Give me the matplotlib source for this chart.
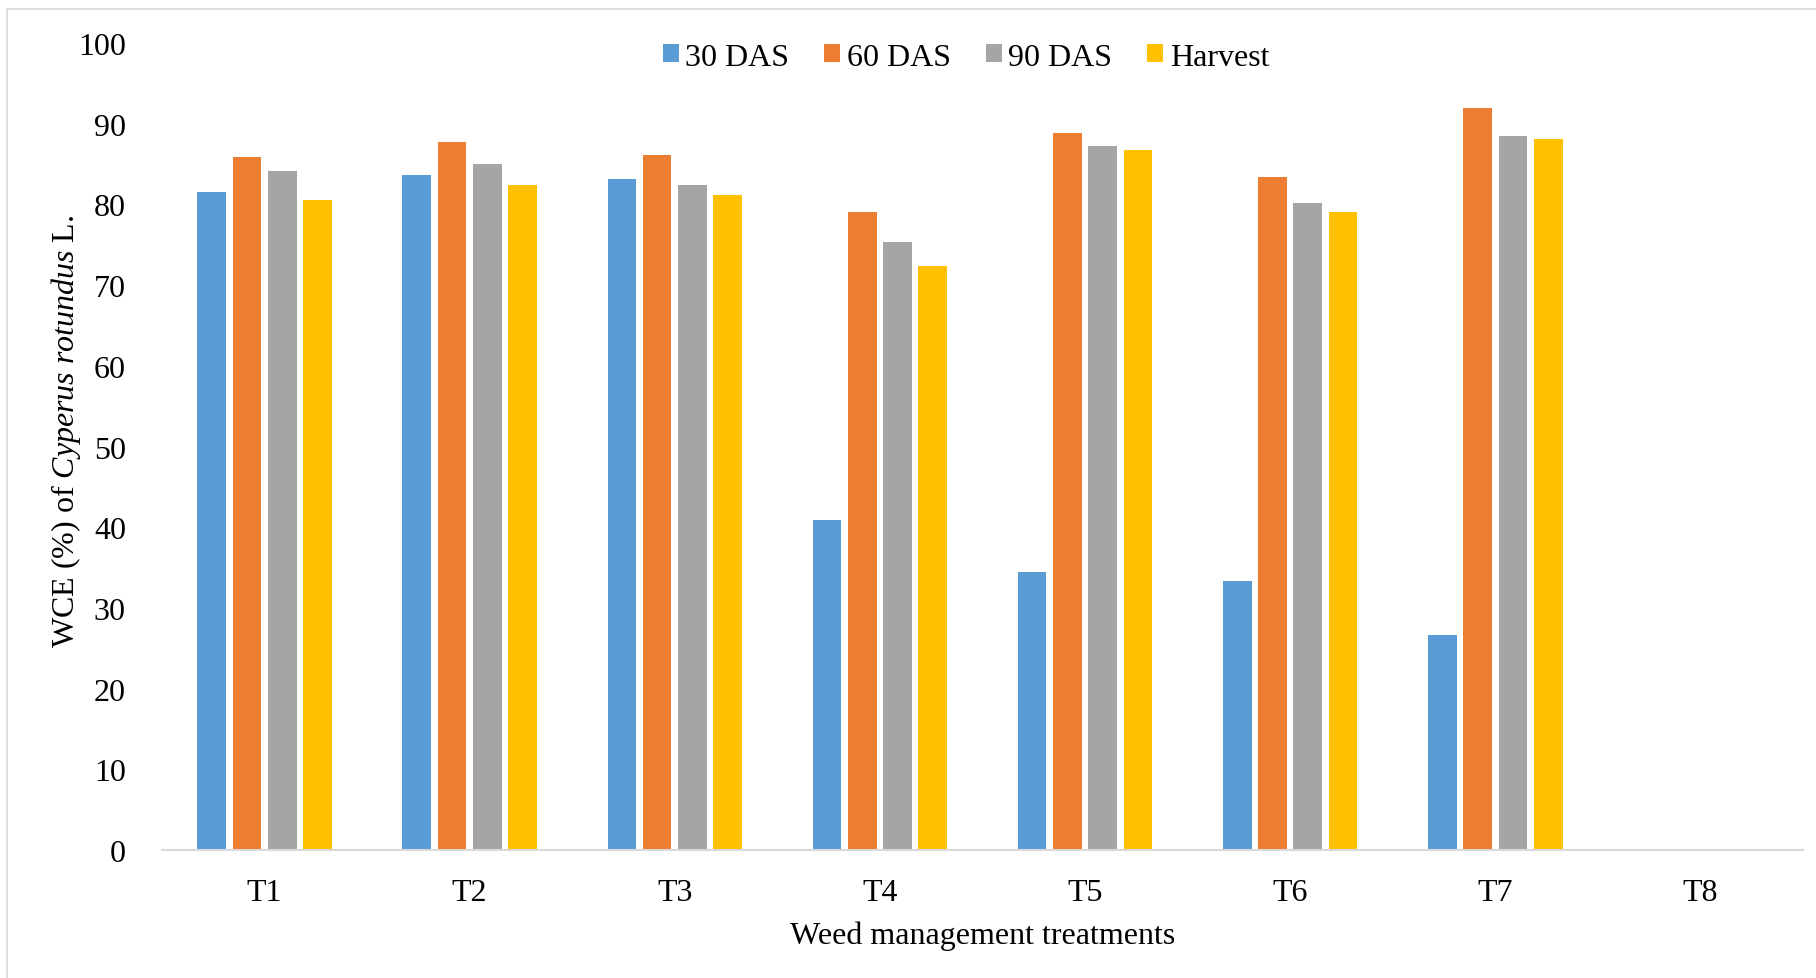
import numpy as np
import matplotlib
matplotlib.use('Agg')
import matplotlib.pyplot as plt
from matplotlib.lines import Line2D

plt.rcParams['font.family'] = ['Liberation Serif', 'DejaVu Serif']
plt.rcParams['mathtext.fontset'] = 'custom'
plt.rcParams['mathtext.rm'] = 'Liberation Serif'
plt.rcParams['mathtext.it'] = 'Liberation Serif:italic'

# Data
treatments = ['T1', 'T2', 'T3', 'T4', 'T5', 'T6', 'T7', 'T8']
das30 = [81.5, 83.6, 83.1, 40.9, 34.5, 33.3, 26.6, 0]
das60 = [85.9, 87.7, 86.1, 79.1, 88.9, 83.4, 91.9, 0]
das90 = [84.1, 85.0, 82.4, 75.3, 87.2, 80.2, 88.5, 0]
harvest = [80.5, 82.4, 81.2, 72.4, 86.8, 79.1, 88.1, 0]

series = [('30 DAS', das30, '#5B9BD5'),
          ('60 DAS', das60, '#ED7D31'),
          ('90 DAS', das90, '#A5A5A5'),
          ('Harvest', harvest, '#FFC000')]

fig = plt.figure(figsize=(18.16, 9.79), dpi=100)
ax = fig.add_axes([0.0892, 0.1308, 0.9036, 0.8242])

x = np.arange(len(treatments))
slot = 0.172
width = 0.14
for i, (name, vals, col) in enumerate(series):
    ax.bar(x + (i - 1.5) * slot, vals, width, color=col, label=name)

ax.set_xlim(-0.5, len(treatments) - 0.5)
ax.set_ylim(0, 100)
ax.set_yticks(range(0, 101, 10))
ax.set_xticks(x)
ax.set_xticklabels(treatments)
ax.tick_params(axis='both', length=0, labelsize=23)
ax.tick_params(axis='y', pad=26)
ax.tick_params(axis='x', pad=20)

for s in ['top', 'right', 'left']:
    ax.spines[s].set_visible(False)
ax.spines['bottom'].set_color('#D9D9D9')
ax.spines['bottom'].set_linewidth(1.5)

ax.set_ylabel(r'WCE (%) of $\mathit{Cyperus\ rotundus}$ L.', fontsize=23)
ax.yaxis.set_label_coords(-0.048, 0.52)
ax.set_xlabel('Weed management treatments', fontsize=23, labelpad=10)

ax.legend(loc='center', bbox_to_anchor=(0.49, 1 - 14 / 807), ncol=4, frameon=False,
          fontsize=23, handlelength=0.5, handleheight=0.5, handletextpad=0.2,
          columnspacing=1.1)

# light outer frame of the chart area
fig.add_artist(Line2D([7 / 1816, 7 / 1816], [0, 1 - 10 / 979], color='#D9D9D9', lw=1.2))
fig.add_artist(Line2D([7 / 1816, 1], [1 - 10 / 979, 1 - 10 / 979], color='#D9D9D9', lw=1.2))

fig.savefig('out.png', dpi=100)
